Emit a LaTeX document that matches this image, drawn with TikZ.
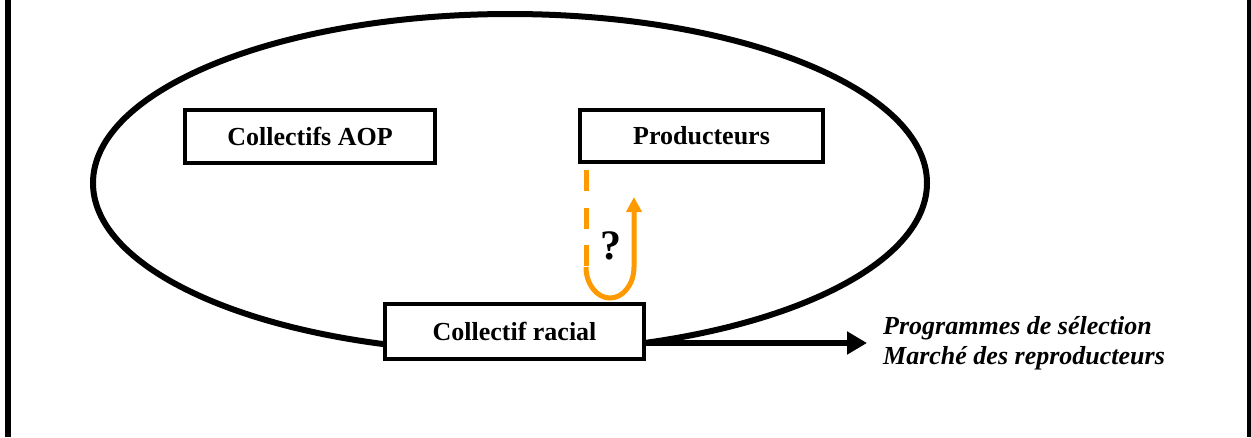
\documentclass[tikz,border=0pt]{standalone}
\usepackage{fontspec}
\setmainfont{Liberation Serif}
\usetikzlibrary{arrows.meta}
\definecolor{qorange}{RGB}{255,153,0}
\begin{document}
\begin{tikzpicture}[x=1pt,y=-1pt,
  box/.style={draw,line width=4pt,fill=white,inner sep=0pt,font=\fontsize{26}{30}\selectfont\bfseries},
  frameline/.style={line width=6pt},
  loopline/.style={qorange,line width=5pt}]
\useasboundingbox (0,0) rectangle (1251,437);
\draw[frameline] (8,0) -- (8,437);
\draw[frameline] (1250,0) -- (1250,437);
\draw[line width=6pt] (510,183) ellipse [x radius=417pt, y radius=169pt];
\node[box,minimum width=250pt,minimum height=53pt] (aop) at (310,136.5) {Collectifs AOP};
\node[box,minimum width=243pt,minimum height=52pt] (prod) at (701.5,136) {Producteurs};
\node[box,minimum width=259pt,minimum height=55pt] (racial) at (514.5,331.5) {Collectif racial};
\coordinate (tip) at (867,343);
\draw[line width=6pt,-{Triangle[length=20pt,width=22pt]}] (racial.east |- tip) -- (tip);
\node[anchor=west,align=left,inner sep=0pt,font=\fontsize{26}{30}\selectfont\bfseries\itshape] (out) at (883,343) {Programmes de sélection\\Marché des reproducteurs};
\coordinate (dtop) at (586,170);
\coordinate (dbot) at (586,267);
\coordinate (atip) at (634,197);
\draw[loopline,dash pattern=on 21pt off 16.5pt] (dtop) -- (dbot);
\draw[loopline,-{Triangle[length=15pt,width=15pt]}] (dbot) arc[start angle=180,end angle=360,x radius=24pt,y radius=31pt] -- (atip);
\node[font=\fontsize{42}{42}\selectfont\bfseries] (q) at (611,246) {?};
\end{tikzpicture}
\end{document}
